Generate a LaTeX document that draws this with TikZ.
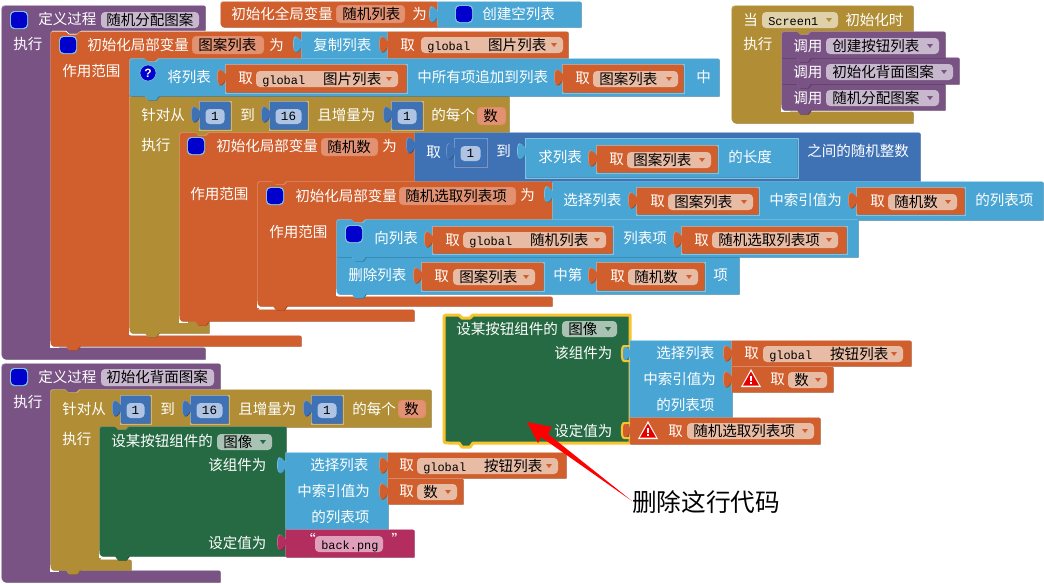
\documentclass[tikz,border=0pt]{standalone}
\usepackage{fontspec}
\setmainfont{Noto Sans CJK SC}
\newfontfamily\gl[Scale=0.82]{Liberation Mono}
\newfontfamily\bsf{Liberation Sans}
\definecolor{cP}{HTML}{7A5385}\definecolor{cPL}{HTML}{A184AB}\definecolor{cPD}{HTML}{573A60}
\definecolor{cO}{HTML}{D05F2D}\definecolor{cOL}{HTML}{E08E6A}\definecolor{cOD}{HTML}{A04820}
\definecolor{cB}{HTML}{49A6D4}\definecolor{cBL}{HTML}{80C2E2}\definecolor{cBD}{HTML}{33789D}
\definecolor{cM}{HTML}{3F71B5}\definecolor{cML}{HTML}{7397CC}\definecolor{cMD}{HTML}{2D5388}
\definecolor{cA}{HTML}{B18E35}\definecolor{cAL}{HTML}{CFB678}\definecolor{cAD}{HTML}{8A6E28}
\definecolor{cG}{HTML}{266A44}\definecolor{cGL}{HTML}{5E9177}\definecolor{cGD}{HTML}{1B4E32}
\definecolor{cR}{HTML}{B32D5E}\definecolor{cRL}{HTML}{CF6F92}\definecolor{cRD}{HTML}{842045}
\definecolor{fO}{HTML}{E8BBA4}\definecolor{fN}{HTML}{E29273}\definecolor{fP}{HTML}{C8B8CE}
\definecolor{fG}{HTML}{A9C2B4}\definecolor{fM}{HTML}{AFC4E2}\definecolor{fA}{HTML}{DFD2AA}
\definecolor{fR}{HTML}{E0A0BC}\definecolor{sel}{HTML}{F8C42E}\definecolor{sq}{HTML}{0000CC}
\newcounter{tn}
\tikzset{
  lab/.style={inner sep=0pt,anchor=west,text height=8.2pt,text depth=0pt,font=\fontsize{10.9}{13}\selectfont},
  fieldbox/.style={rounded corners=3pt},
}
% bevelled block from a path
\newcommand\blk[2]{%
  \fill[#1D,shift={(.7,.7)}] #2;%
  \fill[#1L,shift={(-.7,-.7)}] #2;%
  \fill[#1] #2;}
% statement path: x1,y1,x2,y2,rt,rb
\newcommand\STp[6]{(#1,#2+#5) .. controls (#1,#2) .. (#1+#5,#2) -- (#1+15,#2) -- (#1+18,#2+3) -- (#1+26,#2+3) -- (#1+29,#2) -- (#3,#2) -- (#3,#4) -- (#1+29,#4) -- (#1+26,#4+4) -- (#1+18,#4+4) -- (#1+15,#4) -- (#1+#6,#4) .. controls (#1,#4) .. (#1,#4-#6) -- cycle}
\newcommand\ST[7]{\blk{#1}{\STp{#2}{#3}{#4}{#5}{#6}{#7}}}
% value path
\newcommand\VBp[4]{(#1,#2) -- (#3,#2) -- (#3,#4) -- (#1,#4) -- (#1,#2+15) .. controls (#1-2,#2+15) and (#1-3,#2+20) .. (#1-6,#2+20) .. controls (#1-9,#2+20) and (#1-9,#2+5) .. (#1-6,#2+5) .. controls (#1-3,#2+5) and (#1-2,#2+9) .. (#1,#2+9) -- cycle}
\newcommand\VB[5]{\blk{#1}{\VBp{#2}{#3}{#4}{#5}}}
% value with socket frame: frame,col,x1,y1,x2,y2
\newcommand\VF[6]{\fill[#1] (#3-1.5,#4-1.5) rectangle (#5+2,#6+2);\VB{#2}{#3}{#4}{#5}{#6}}
% C block: col,x1,y1,xh,yh,xs,ya,xa,yb
\newcommand\CB[9]{\blk{#1}{(#2,#3+5) .. controls (#2,#3) .. (#2+5,#3) -- (#2+15,#3) -- (#2+18,#3+3) -- (#2+26,#3+3) -- (#2+29,#3) -- (#4,#3) -- (#4,#5) -- (#6+29,#5) -- (#6+26,#5+3) -- (#6+18,#5+3) -- (#6+15,#5) -- (#6,#5) -- (#6,#7) -- (#8,#7) -- (#8,#9) -- (#2+29,#9) -- (#2+26,#9+4) -- (#2+18,#9+4) -- (#2+15,#9) -- (#2+5,#9) .. controls (#2,#9) .. (#2,#9-5) -- cycle}}
% hat C block, no notch: col,x1,y1,xh,yh,xs,ya,xa,yb
\newcommand\HB[9]{\blk{#1}{(#2,#3+8) .. controls (#2,#3) .. (#2+8,#3) -- (#4,#3) -- (#4,#5) -- (#6+29,#5) -- (#6+26,#5+3) -- (#6+18,#5+3) -- (#6+15,#5) -- (#6,#5) -- (#6,#7) -- (#8,#7) -- (#8,#9) -- (#2+8,#9) .. controls (#2,#9) .. (#2,#9-8) -- cycle}}
% white crescent behind a last child's lower left corner: x,y
\newcommand\cres[2]{\fill[white] (#1-1,#2-5) rectangle (#1+8,#2+1.5);}
% white label: x,yc,text
\newcommand\lbl[3]{\stepcounter{tn}\node[lab,text=white] (t\arabic{tn}) at (#1,#2) {#3};}
% field: fill,x1,x2,yc,text
\newcommand\fld[5]{\fill[#1,fieldbox] (#2,#4-8) rectangle (#3,#4+8);\stepcounter{tn}\node[lab,text=black] (t\arabic{tn}) at (#2+6,#4) {#5};}
% drop triangle: col,x,y
\newcommand\tri[3]{\fill[#1] (#2-3,#3-2) -- (#2+3,#3-2) -- (#2,#3+2) -- cycle;}
% dropdown field in one: fill,triangle col,x1,x2,yc,text
\newcommand\dfld[6]{\fld{#1}{#3}{#4}{#5}{#6}\tri{#2}{#4-9}{#5}}
\newcommand\ofld[4]{\dfld{fO}{cO}{#1}{#2}{#3}{#4}}
\newcommand\pfld[4]{\dfld{fP}{cP}{#1}{#2}{#3}{#4}}
% local name field
\newcommand\nfld[4]{\fill[cOL,fieldbox] (#1-1,#3-9) rectangle (#2+1,#3+9);\fill[fN,fieldbox] (#1,#3-8) rectangle (#2,#3+8);\stepcounter{tn}\node[lab,text=black] (t\arabic{tn}) at (#1+5,#3) {#4};}
% blue square
\newcommand\sqr[2]{\fill[cBL,rounded corners=3pt] (#1-1,#2-9) rectangle (#1+17,#2+9);\fill[sq,rounded corners=3pt] (#1,#2-8) rectangle (#1+16,#2+8);}
% number block: frame,x1,x2,y1 (27 high)
\newcommand\num[4]{\VF{#1}{cM}{#2}{#4}{#3}{#4+27}\fill[fM,fieldbox] (#2+5.5,#4+7) rectangle (#3-5.5,#4+22);\stepcounter{tn}\node[inner sep=0pt,text=black,font=\gl\fontsize{11.5}{12}\selectfont] (t\arabic{tn}) at ({(#2+#3)/2},#4+14.5) {\ifnum#3>\numexpr#2+33\relax 16\else 1\fi};}
% warning triangle
\newcommand\warn[2]{\fill[white] (#1,#2-10) -- (#1+10,#2+8) -- (#1-10,#2+8) -- cycle;\fill[red!90!black] (#1,#2-7.5) -- (#1+8,#2+6.5) -- (#1-8,#2+6.5) -- cycle;\fill[white] (#1-1,#2-3) rectangle (#1+1,#2+2);\fill[white] (#1-1,#2+3) rectangle (#1+1,#2+5);}
% yellow outline of a tab
\newcommand\ytab[2]{\draw[sel,line width=1.5pt] (#1,#2+5) -- (#1-6,#2+5) .. controls (#1-9,#2+5) and (#1-9,#2+20) .. (#1-6,#2+20) -- (#1,#2+20);}
\begin{document}
\begin{tikzpicture}[x=.75pt,y=-.75pt]
\useasboundingbox (0,0) rectangle (1044,583);
\fill[white] (0,0) rectangle (1044,583);

%% ===== procedure 1
\HB{cP}{2}{6}{205}{30}{51}{348}{205}{359}
\sqr{11}{20}
\lbl{38}{19}{定义过程}
\fill[fP,fieldbox] (101,12) rectangle (199,28);
\stepcounter{tn}\node[lab,text=black] (t\arabic{tn}) at (106,20) {随机分配图案};
\lbl{13}{44}{执行}

%% global var
\blk{cO}{(221,8) .. controls (221,2) .. (227,2) -- (438,2) -- (438,27) -- (227,27) .. controls (221,27) .. (221,21) -- cycle}
\lbl{231}{14}{初始化全局变量}
\nfld{337}{404}{14}{随机列表}
\lbl{412}{14}{为}
\VB{cB}{438}{2}{581}{27}
\sqr{456}{14}
\lbl{482}{14}{创建空列表}

%% local var 1
\cres{51}{346}
\CB{cO}{51}{32}{302}{59}{130}{336}{301}{346}
\sqr{60}{45}
\lbl{87}{45}{初始化局部变量}
\nfld{193}{263}{45}{图案列表}
\lbl{269}{45}{为}
\lbl{62}{71}{作用范围}
\VB{cB}{302}{32}{388}{59}
\lbl{313}{45}{复制列表}
\VB{cO}{388}{32}{568}{59}
\lbl{400}{45}{取}
\ofld{421}{563}{45}{{\gl global}\hspace{13.5pt}图片列表}

%% for loop 1
\cres{130}{333}
\CB{cA}{130}{96}{509}{133}{180}{322}{209}{333}
\lbl{141}{115}{针对从}
\num{cAL}{200}{230}{102}
\lbl{240}{115}{到}
\num{cAL}{270}{307}{102}
\lbl{317}{115}{且增量为}
\num{cAL}{392}{422}{102}
\lbl{431}{115}{的每个}
\nfld{478}{505}{116}{数}
\lbl{141}{145}{执行}

%% append statement
\ST{cB}{130}{59}{719}{96}{5}{0}
\fill[sq,draw=cBL] (148,73) circle[radius=8];
\stepcounter{tn}\node[inner sep=0pt,text=white,font=\bsf\bfseries\fontsize{9}{10}\selectfont] (t\arabic{tn}) at (148,73) {?};
\lbl{167}{77}{将列表}
\VF{cBL}{cO}{226}{65}{406}{92}
\lbl{238}{78}{取}
\ofld{256}{398}{79}{{\gl global}\hspace{13.5pt}图片列表}
\lbl{417}{77}{中所有项追加到列表}
\VF{cBL}{cO}{563}{65}{683}{92}
\lbl{575}{78}{取}
\ofld{593}{678}{79}{图案列表}
\lbl{696}{77}{中}

%% local var 2
\cres{180}{321}
\CB{cO}{180}{133}{415}{182}{258}{310}{414}{321}
\sqr{188}{146}
\lbl{216}{146}{初始化局部变量}
\nfld{322}{377}{147}{随机数}
\lbl{382}{146}{为}
\lbl{190}{194}{作用范围}
\VB{cM}{415}{133}{920}{182}
\lbl{426}{152}{取}
\num{cML}{455}{486}{139}
\lbl{496}{151}{到}
\VF{cBL}{cB}{526}{139}{797}{177}
\lbl{538}{157}{求列表}
\VF{cBL}{cO}{597}{146}{717}{172}
\lbl{609}{159}{取}
\ofld{627}{711}{160}{图案列表}
\lbl{728}{157}{的长度}
\lbl{807}{151}{之间的随机整数}

%% local var 3
\cres{258}{306}
\CB{cO}{258}{182}{552}{220}{337}{297}{552}{306}
\sqr{267}{196}
\lbl{295}{196}{初始化局部变量}
\nfld{400}{515}{196}{随机选取列表项}
\lbl{520}{195}{为}
\lbl{269}{232}{作用范围}
\VB{cB}{553}{182}{1043}{220}
\lbl{563}{200}{选择列表}
\VF{cBL}{cO}{637}{188}{758}{214}
\lbl{650}{201}{取}
\ofld{668}{753}{202}{图案列表}
\lbl{769}{200}{中索引值为}
\VF{cBL}{cO}{857}{188}{964}{214}
\lbl{870}{201}{取}
\ofld{888}{957}{202}{随机数}
\lbl{975}{200}{的列表项}

%% remove statement, then add statement
\cres{337}{294}
\ST{cB}{337}{257}{739}{294}{0}{5}
\lbl{348}{275}{删除列表}
\VF{cBL}{cO}{422}{263}{543}{290}
\lbl{434}{276}{取}
\ofld{453}{535}{277}{图案列表}
\lbl{553}{275}{中第}
\VF{cBL}{cO}{597}{263}{704}{290}
\lbl{610}{276}{取}
\ofld{628}{698}{277}{随机数}
\lbl{713}{275}{项}
\ST{cB}{337}{220}{858}{257}{5}{0}
\sqr{346}{234}
\lbl{374}{238}{向列表}
\VF{cBL}{cO}{433}{227}{612}{253}
\lbl{445}{240}{取}
\ofld{463}{606}{240}{{\gl global}\hspace{13.5pt}随机列表}
\lbl{623}{238}{列表项}
\VF{cBL}{cO}{682}{227}{846}{253}
\lbl{694}{240}{取}
\ofld{712}{838}{240}{随机选取列表项}

%% Screen1 event
\HB{cA}{732}{6}{913}{32}{782}{112}{913}{123}
\lbl{743}{20}{当}
\dfld{fA}{cA}{762}{838}{20}{{\gl Screen1}}
\lbl{845}{20}{初始化时}
\lbl{743}{44}{执行}
\cres{782}{110}
\ST{cP}{782}{84}{945}{110}{0}{5}
\lbl{793}{98}{调用}
\pfld{826}{939}{98}{随机分配图案}
\ST{cP}{782}{58}{959}{84}{0}{0}
\lbl{793}{72}{调用}
\pfld{826}{953}{72}{初始化背面图案}
\ST{cP}{782}{32}{945}{58}{5}{0}
\lbl{793}{46}{调用}
\pfld{826}{939}{46}{创建按钮列表}

%% ===== procedure 2
\HB{cP}{2}{364}{220}{390}{51}{571}{220}{582}
\sqr{11}{377}
\lbl{38}{377}{定义过程}
\fill[fP,fieldbox] (101,369) rectangle (214,386);
\stepcounter{tn}\node[lab,text=black] (t\arabic{tn}) at (106,377) {初始化背面图案};
\lbl{13}{402}{执行}
\cres{51}{570}
\CB{cA}{51}{390}{431}{427}{100}{560}{131}{570}
\lbl{62}{409}{针对从}
\num{cAL}{121}{150}{396}
\lbl{160}{409}{到}
\num{cAL}{191}{228}{396}
\lbl{238}{409}{且增量为}
\num{cAL}{312}{342}{396}
\lbl{352}{409}{的每个}
\nfld{399}{425}{409}{数}
\lbl{62}{439}{执行}
\cres{100}{556}
\ST{cG}{100}{427}{286}{556}{5}{5}
\lbl{111}{441}{设某按钮组件的}
\dfld{fG}{cG}{217}{272}{442}{图像}
\lbl{208}{465}{该组件为}
\lbl{208}{543}{设定值为}
\VB{cB}{286}{453}{388}{530}
\lbl{310}{465}{选择列表}
\lbl{297}{491}{中索引值为}
\lbl{311}{517}{的列表项}
\VB{cO}{388}{453}{566}{478}
\lbl{399}{465}{取}
\ofld{417}{558}{466}{{\gl global}\hspace{13.5pt}按钮列表}
\VB{cO}{388}{479}{463}{504}
\lbl{399}{491}{取}
\ofld{417}{457}{492}{数}
\VB{cR}{286}{530}{414}{557}
\stepcounter{tn}\node[lab,text=white] (t\arabic{tn}) at (301,540) {“};
\fld{fR}{315}{383}{544}{{\gl back.png}}
\stepcounter{tn}\node[lab,text=white] (t\arabic{tn}) at (391,540) {”};

%% ===== selected setter
\ST{cG}{444}{315}{630}{443}{5}{5}
\draw[sel,line width=2.25pt,line join=round] \STp{444}{315}{630}{443}{5}{5};
\lbl{456}{329}{设某按钮组件的}
\dfld{fG}{cG}{562}{617}{329}{图像}
\lbl{554}{353}{该组件为}
\lbl{554}{431}{设定值为}
\VB{cB}{630}{341}{732}{418}
\ytab{630}{341}
\lbl{656}{353}{选择列表}
\lbl{643}{379}{中索引值为}
\lbl{656}{405}{的列表项}
\VB{cO}{732}{341}{911}{366}
\lbl{744}{353}{取}
\ofld{763}{903}{354}{{\gl global}\hspace{13.5pt}按钮列表}
\VB{cO}{732}{367}{833}{392}
\warn{751}{379}
\lbl{770}{379}{取}
\ofld{788}{827}{380}{数}
\VB{cO}{630}{418}{820}{444}
\ytab{630}{418}
\warn{648}{431}
\lbl{668}{431}{取}
\ofld{687}{814}{431}{随机选取列表项}

%% ===== red pointer with its label
\node[inner sep=0pt,anchor=west,text=black,text height=15pt,text depth=0pt,font=\fontsize{18.5}{22}\selectfont] (del) at (632,501) {删除这行代码};
\coordinate (tip) at (527,422);
\fill[red] (tip) -- (552,427) -- (548,434) -- (del.west) -- (541,437) -- (538,443) -- cycle;
\end{tikzpicture}
\end{document}
